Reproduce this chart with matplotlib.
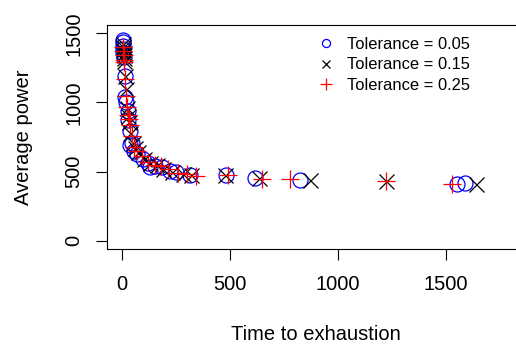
import matplotlib.pyplot as plt
from matplotlib.lines import Line2D

plt.rcParams['font.family'] = ['Liberation Sans', 'DejaVu Sans']

# Tolerance = 0.05
time_05 = [2, 3, 4, 3, 5, 6, 12, 15, 18, 25, 28, 35, 36, 45, 55, 70, 95, 120, 129,
           150, 185, 220, 250, 314, 481, 615, 823, 1550, 1588]
power_05 = [1450, 1435, 1410, 1385, 1360, 1330, 1190, 1040, 1000, 935, 875, 790, 690,
            705, 650, 630, 590, 560, 532, 540, 530, 505, 495, 478, 478, 450, 440, 410, 415]

# Tolerance = 0.15
time_15 = [2, 4, 5, 6, 7, 8, 10, 13, 17, 22, 27, 30, 38, 48, 60, 75, 100, 130, 160,
           190, 230, 280, 320, 478, 634, 870, 1225, 1639]
power_15 = [1420, 1400, 1380, 1360, 1340, 1320, 1300, 1190, 1100, 960, 900, 860, 780,
            710, 670, 640, 590, 560, 550, 520, 500, 480, 475, 475, 450, 440, 432, 412]

# Tolerance = 0.25
time_25 = [3, 4, 6, 8, 10, 12, 16, 20, 25, 30, 35, 45, 55, 70, 90, 120, 150, 180,
           210, 260, 300, 340, 490, 648, 777, 1225, 1531]
power_25 = [1400, 1370, 1340, 1310, 1290, 1170, 1050, 970, 910, 880, 840, 760, 680,
            650, 610, 570, 545, 540, 520, 490, 480, 470, 478, 445, 443, 432, 412]

labels = ['Tolerance = 0.05', 'Tolerance = 0.15', 'Tolerance = 0.25']
ticks = [0, 500, 1000, 1500]

W, H = 516, 347
fig = plt.figure(figsize=(W / 100, H / 100), dpi=100)
# plot region in pixels: left 106.7, right 526 (runs off the image), top 25, bottom 249
ax = fig.add_axes([106.7 / W, 1 - 249 / H, (526 - 106.7) / W, (249 - 25) / H])

lw = 0.9
ax.plot(time_05, power_05, 'o', mfc='none', mec='#0000ff', ms=10.8, mew=lw, ls='none')
ax.plot(time_15, power_15, 'x', color='black', ms=10.8, mew=lw, ls='none')
ax.plot(time_25, power_25, '+', color='#ff0000', ms=13.3, mew=lw, ls='none')

ax.set_xlim(-72, 1872)
ax.set_ylim(-60, 1560)
ax.set_xticks(ticks)
ax.set_yticks(ticks)
ax.tick_params(length=8, width=0.8, labelsize=14.5, color='black')
ax.tick_params(axis='x', pad=11)
ax.tick_params(axis='y', pad=9, labelrotation=90)
for lab in ax.get_yticklabels():
    lab.set_va('center')
for s in ax.spines.values():
    s.set_linewidth(0.8)

ax.set_xlabel('Time to exhaustion', fontsize=14.5)
ax.set_ylabel('Average power', fontsize=14.5)
# center the labels on the plot region (axes runs off the right edge)
ax.xaxis.set_label_coords(0.5, -0.34)
ax.yaxis.set_label_coords(-0.176, 0.5)

handles = [
    Line2D([], [], marker='o', mfc='none', mec='#0000ff', ms=5.8, mew=lw, ls='none'),
    Line2D([], [], marker='x', color='black', ms=5.8, mew=lw, ls='none'),
    Line2D([], [], marker='+', color='#ff0000', ms=8.6, mew=lw, ls='none'),
]
ax.legend(handles, labels, loc='upper left', bbox_to_anchor=(318 / W, 1 - 37 / H),
          bbox_transform=fig.transFigure, frameon=False, fontsize=11.9,
          handlelength=1.0, handletextpad=0.75, labelspacing=0.33, borderpad=0,
          borderaxespad=0)

fig.savefig('out.png', dpi=100)
